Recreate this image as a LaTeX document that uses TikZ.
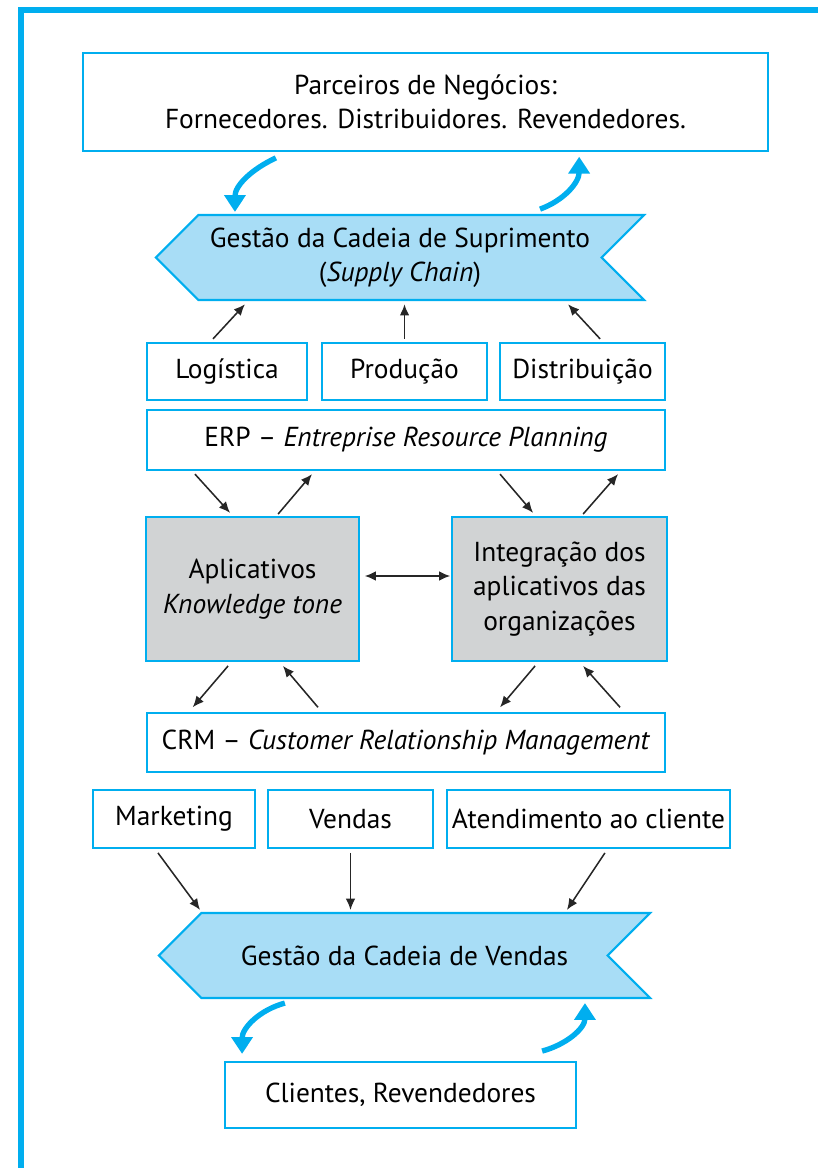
\documentclass[tikz,border=0pt]{standalone}
\usepackage{fontspec}
\setmainfont{PT Sans}
\usetikzlibrary{arrows.meta,shapes.symbols}
\definecolor{cyanline}{HTML}{00AEEF}
\definecolor{chainfill}{HTML}{A8DDF6}
\definecolor{boxgray}{HTML}{D1D3D4}
\begin{document}
\begin{tikzpicture}[
        x=0.025cm, y=-0.025cm,
        font=\fontsize{19.5}{24.5}\selectfont,
        box/.style={rectangle, draw=cyanline, line width=1.3pt, fill=white, align=center, inner sep=0pt},
        graybox/.style={box, fill=boxgray},
        chain/.style={signal, signal to=west, signal from=east, signal pointer angle=90, draw=cyanline, line width=1.5pt, fill=chainfill, align=center, inner sep=0pt},
        link/.style={-{Latex[length=2.8mm,width=2.4mm]}, line width=1.1pt, black!85},
        flow/.style={-{Triangle[length=4.2mm,width=5.2mm]}, line width=3.8pt, cyanline}
    ]
        \useasboundingbox (0,0) rectangle (818,1168);

        % frame
        \draw[cyanline, line width=4.5pt] (21,1168) -- (21,10) -- (818,10);

        % partners and supply chain
        \node[box, minimum width=17.125cm, minimum height=2.45cm] (parc_box) at (425.5,102)
            {Parceiros de Negócios:\\Fornecedores. Distribuidores. Revendedores.};
        \node[chain, minimum width=12.2cm, minimum height=2.125cm] (supply_chain) at (400,257.5)
            {Gestão da Cadeia de Suprimento\\(\textit{Supply Chain})};
        \draw[flow] ([xshift=-3.74cm,yshift=-0.15cm]parc_box.south) to[out=-155,in=90] ([xshift=-4.125cm,yshift=0.05cm]supply_chain.north);
        \draw[flow] ([xshift=3.5cm,yshift=0.12cm]supply_chain.north) to[out=20,in=-90] ([xshift=3.84cm,yshift=-0.12cm]parc_box.south);

        % ERP row
        \node[box, minimum width=4cm, minimum height=1.425cm] (logi_box) at (227,371.5) {Logística};
        \node[box, minimum width=4.125cm, minimum height=1.425cm] (prod_box) at (404.5,371.5) {Produção};
        \node[box, minimum width=4.125cm, minimum height=1.425cm] (dist_box) at (582.5,371.5) {Distribuição};
        \draw[link] ([xshift=-0.35cm,yshift=0.08cm]logi_box.north) -- ([xshift=-3.875cm,yshift=-0.08cm]supply_chain.south);
        \draw[link] ([yshift=0.08cm]prod_box.north) -- ([yshift=-0.08cm]prod_box.north |- supply_chain.south);
        \draw[link] ([xshift=0.44cm,yshift=0.08cm]dist_box.north) -- ([xshift=4.2cm,yshift=-0.08cm]supply_chain.south);

        \node[box, minimum width=12.95cm, minimum height=1.5cm] (erp_box) at (406,440)
            {ERP -- \textit{Entreprise Resource Planning}};

        % applications
        \node[graybox, minimum width=5.325cm, minimum height=3.6cm] (apl_box) at (252.5,589)
            {Aplicativos\\\textit{Knowledge tone}};
        \node[graybox, minimum width=5.375cm, minimum height=3.6cm] (integ_box) at (559.5,589)
            {Integração dos\\aplicativos das\\organizações};
        \draw[link, {Latex[length=2.8mm,width=2.4mm]}-{Latex[length=2.8mm,width=2.4mm]}] ([xshift=0.12cm,yshift=0.325cm]apl_box.east) -- ([xshift=-0.02cm,yshift=0.325cm]integ_box.west);

        \draw[link] ([xshift=-5.275cm,yshift=-0.08cm]erp_box.south) -- ([xshift=-0.56cm,yshift=0.08cm]apl_box.north);
        \draw[link] ([xshift=0.64cm,yshift=0.05cm]apl_box.north) -- ([xshift=-2.35cm,yshift=-0.08cm]erp_box.south);
        \draw[link] ([xshift=2.35cm,yshift=-0.08cm]erp_box.south) -- ([xshift=-0.66cm,yshift=0.08cm]integ_box.north);
        \draw[link] ([xshift=0.59cm,yshift=0.05cm]integ_box.north) -- ([xshift=5.3cm,yshift=-0.08cm]erp_box.south);

        % CRM row
        \node[box, minimum width=12.95cm, minimum height=1.475cm] (crm_box) at (406,742.5)
            {CRM -- \textit{Customer Relationship Management}};
        \draw[link] ([xshift=-0.61cm,yshift=-0.1cm]apl_box.south) -- ([xshift=-5.33cm,yshift=0.12cm]crm_box.north);
        \draw[link] ([xshift=-2.2cm,yshift=0.12cm]crm_box.north) -- ([xshift=0.76cm,yshift=-0.1cm]apl_box.south);
        \draw[link] ([xshift=-0.61cm,yshift=-0.1cm]integ_box.south) -- ([xshift=2.35cm,yshift=0.12cm]crm_box.north);
        \draw[link] ([xshift=5.35cm,yshift=0.12cm]crm_box.north) -- ([xshift=0.59cm,yshift=-0.1cm]integ_box.south);

        \node[box, minimum width=4.05cm, minimum height=1.45cm] (mkt_box) at (174,819) {Marketing};
        \node[box, minimum width=4.125cm, minimum height=1.45cm] (vend_box) at (350.5,819) {Vendas};
        \node[box, minimum width=7.075cm, minimum height=1.45cm] (atend_box) at (588.5,819) {Atendimento ao cliente};

        % sales chain and customers
        \node[chain, minimum width=12.275cm, minimum height=2.125cm] (sales_chain) at (404.5,955.5)
            {Gestão da Cadeia de Vendas};
        \draw[link] ([xshift=-0.4cm,yshift=-0.1cm]mkt_box.south) -- ([xshift=-5.11cm,yshift=0.05cm]sales_chain.north);
        \draw[link] ([yshift=-0.1cm]vend_box.south) -- ([yshift=0.05cm]vend_box.south |- sales_chain.north);
        \draw[link] ([xshift=0.41cm,yshift=-0.1cm]atend_box.south) -- ([xshift=4.06cm,yshift=0.05cm]sales_chain.north);

        \node[box, minimum width=8.775cm, minimum height=1.65cm] (cli_box) at (400.5,1095) {Clientes, Revendedores};
        \draw[flow] ([xshift=-2.99cm,yshift=-0.1cm]sales_chain.south) to[out=-165,in=90] ([xshift=-3.96cm,yshift=0.18cm]cli_box.north);
        \draw[flow] ([xshift=3.54cm,yshift=0.25cm]cli_box.north) to[out=15,in=-90] ([xshift=4.51cm,yshift=-0.1cm]sales_chain.south);

    \end{tikzpicture}
\end{document}
